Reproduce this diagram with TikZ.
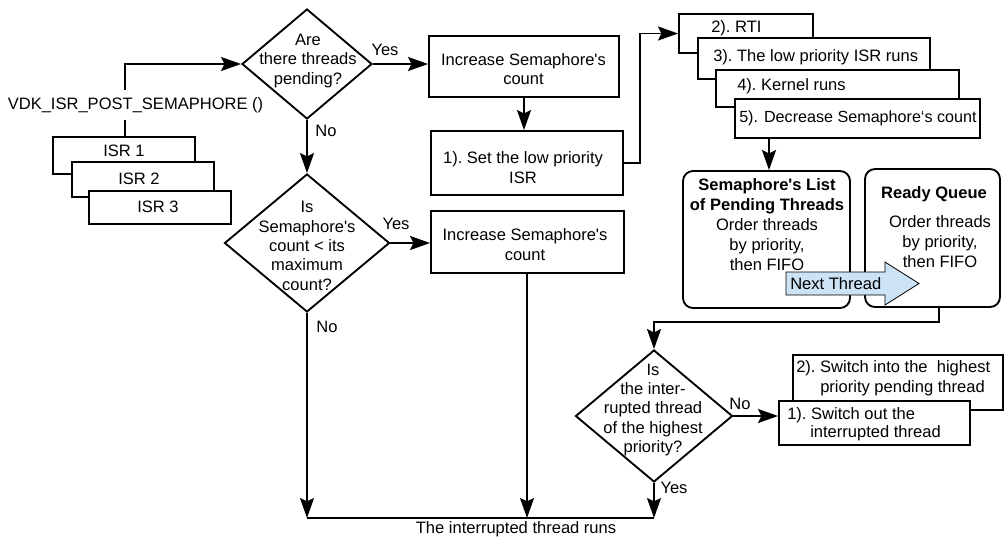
\documentclass[tikz,border=0pt]{standalone}
\usepackage{fontspec}
\setmainfont{Liberation Sans}
\usetikzlibrary{shapes.geometric,arrows.meta,fit,calc}
\definecolor{arrowblue}{HTML}{CCE2F5}
\newcommand\sq{\textquotesingle}
\begin{document}
\begin{tikzpicture}[x=0.75pt,y=-0.75pt,
  font=\fontsize{12.4}{14.5}\selectfont\frenchspacing,
  lw/.style={line width=1.4pt},
  box/.style={draw,lw,fill=white,inner sep=0pt},
  rbox/.style={draw,lw,fill=white,inner sep=0pt,rounded corners=7.5pt},
  dia/.style={draw,lw,diamond,inner sep=0pt},
  txt/.style={inner sep=0pt,align=center},
  ltxt/.style={inner sep=0pt,anchor=west},
  arr/.style={lw,-{Stealth[length=15pt,width=10.5pt,inset=2.5pt]}},
  ln/.style={lw},
]
\useasboundingbox (0,0) rectangle (1004,537);

% diamonds
\node[dia,minimum width=97.5pt,minimum height=82.5pt] (d1) at (307,64) {};
\node[txt] (d1t) at (308,61) {Are\\there threads\\pending?};
\node[dia,minimum width=123.75pt,minimum height=103.5pt] (d2) at (307,243) {};
\node[txt] (d2t) at (307,246) {Is\\Semaphore\sq s\\count < its\\maximum\\count?};
\node[dia,minimum width=117.75pt,minimum height=99pt] (d3) at (654,416) {};
\node[txt] (d3t) at (653,410) {Is\\the inter-\\rupted thread\\of the highest\\priority?};

% ISR boxes
\node[box,fit={(53,137)(195,174)}] (isr1) {};
\node[txt] (isr1t) at (124,151) {ISR 1};
\node[box,fit={(72,162)(214,197)}] (isr2) {};
\node[txt] (isr2t) at (139,179) {ISR 2};
\node[box,fit={(89,191)(231,224)}] (isr3) {};
\node[txt] (isr3t) at (158,207) {ISR 3};

\node[inner sep=0pt,minimum height=22.5pt] (vdk) at (135.5,105) {VDK\_ISR\_POST\_SEMAPHORE ()};
\coordinate (vx) at (125,0);

% left column boxes
\node[box,fit={(429,36)(619,97)}] (inc1) {};
\node[txt] (inc1t) at (523.5,69) {Increase Semaphore\sq s\\count};
\node[box,fit={(431,131)(623,195)}] (setlow) {};
\node[txt] (setlowt) at (523,167.5) {1). Set the low priority\\ISR};
\node[box,fit={(431,211)(624,273)}] (inc2) {};
\node[txt] (inc2t) at (525,244.5) {Increase Semaphore\sq s\\count};

% stacked steps
\node[box,fit={(679,14)(813,53)}] (rti) {};
\node[ltxt] (rtit) at (711,28) {2). RTI};
\node[box,fit={(698,38)(930,79)}] (low) {};
\node[ltxt] (lowt) at (713,57) {3). The low priority ISR runs};
\node[box,fit={(716,70)(959,107)}] (kern) {};
\node[ltxt] (kernt) at (737,86) {4). Kernel runs};
\node[box,fit={(735,99)(980,138)}] (dec) {};
\node[ltxt,font=\fontsize{12.1}{14.5}\selectfont] (dect) at (739,118) {5). Decrease Semaphore‘s count};

% queues
\node[rbox,fit={(683,171)(850,308)}] (sl) {};
\node[txt,font=\fontsize{12.4}{15}\selectfont] (slt) at (767,225) {\textbf{Semaphore\sq s List}\\\textbf{of Pending Threads}\\Order threads\\by priority,\\then FIFO};
\node[rbox,fit={(865,169)(1000,307)}] (rq) {};
\node[txt] (rqh) at (934,194) {\textbf{Ready Queue}};
\node[txt,font=\fontsize{12.4}{15}\selectfont] (rqt) at (940,242) {Order threads\\by priority,\\then FIFO};

\draw[line width=0.6pt,fill=arrowblue] (786,272) -- (885,272) -- (885,262) -- (919,283.5) -- (885,305) -- (885,295) -- (786,295) -- cycle;
\node[ltxt] (nt) at (790,283.5) {Next Thread};

% switch boxes
\node[box,fit={(793,355)(1003,410)}] (sw2) {};
\node[ltxt] (sw2a) at (796,368) {2). Switch into the\ \ highest};
\node[ltxt] (sw2b) at (820,388) {priority pending thread};
\node[box,fit={(779,401)(970,445)}] (sw1) {};
\node[ltxt] (sw1a) at (787,415) {1). Switch out the};
\node[ltxt] (sw1b) at (810,433) {interrupted thread};

% bottom
\coordinate (b1) at (307,518);
\coordinate (b2) at (527,518);
\coordinate (b3) at (654,518);
\node[txt] (out) at (516,529) {The interrupted thread runs};

% connectors
\draw[arr] (vdk.north -| vx) |- (d1.west);
\draw[ln] (vdk.south -| vx) -- (isr1.north -| vx);
\draw[arr] (d1.east) -- (d1.east -| inc1.west);
\draw[arr] (d1.south) -- (d2.north);
\draw[arr] (inc1.south) -- (inc1.south |- setlow.north);
\draw[arr] (setlow.east) -- ++(16,0) |- (rti.west);
\draw[arr] (dec.south -| 769,0) -- (sl.north -| 769,0);
\draw[arr] (d2.east) -- (d2.east -| inc2.west);
\draw[arr] ([xshift=4.9pt]rq.south) -- ++(0,14) -| (d3.north);
\draw[arr] (d3.east) -- (d3.east -| sw1.west);
\draw[ln] (b1) -- (b3);
\draw[arr] (d2.south) -- (b1);
\draw[arr] (b2 |- inc2.south) -- (b2);
\draw[arr] (d3.south) -- (b3);

% labels
\node[txt] (y1) at (385,50) {Yes};
\node[txt] (n1) at (326,131) {No};
\node[txt] (y2) at (396,224) {Yes};
\node[txt] (n2) at (327,327) {No};
\node[txt] (n3) at (740,404) {No};
\node[txt] (y3) at (674,488) {Yes};
\end{tikzpicture}
\end{document}
